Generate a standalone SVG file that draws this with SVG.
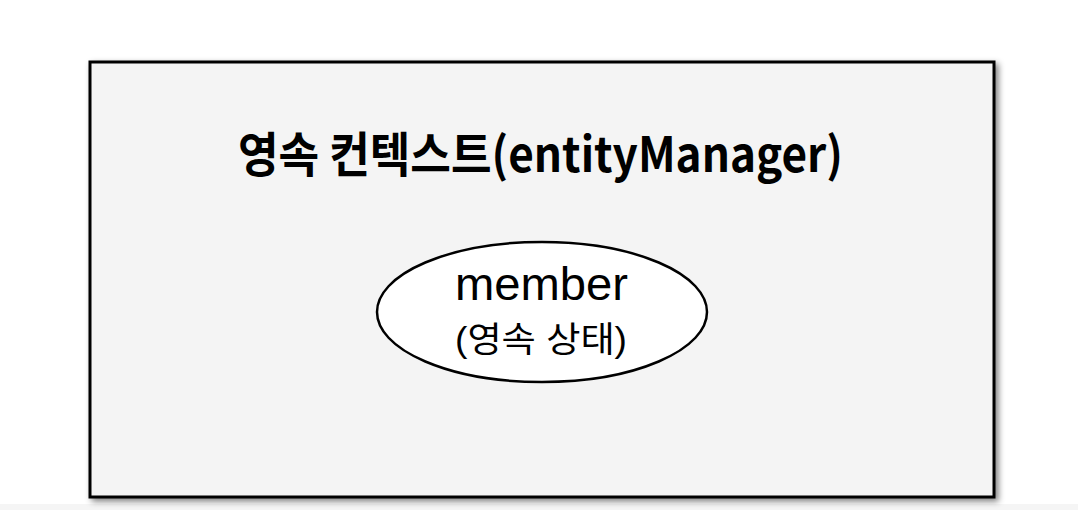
<svg xmlns="http://www.w3.org/2000/svg" width="1078" height="510" viewBox="0 0 1078 510">
  <defs>
    <filter id="shadow" x="-5%" y="-5%" width="110%" height="115%">
      <feGaussianBlur in="SourceAlpha" stdDeviation="3"/>
      <feOffset dx="3" dy="3" result="b"/>
      <feComponentTransfer><feFuncA type="linear" slope="0.5"/></feComponentTransfer>
      <feMerge><feMergeNode/><feMergeNode in="SourceGraphic"/></feMerge>
    </filter>
  </defs>
  <style>
    .title { font-family: "Noto Sans CJK KR", "Noto Sans", sans-serif; font-weight: bold; font-size: 48px; fill: #000; }
    .lbl { font-family: "Liberation Sans", "Noto Sans CJK KR", sans-serif; fill: #000; }
  </style>
  <rect x="0" y="0" width="1078" height="510" fill="#ffffff"/>
  <rect x="0" y="504" width="1078" height="6" fill="#f5f5f5"/>
  <g id="persistence-context">
    <rect x="90" y="62" width="904" height="435" fill="#f4f4f4" stroke="#000" stroke-width="3" filter="url(#shadow)"/>
    <text class="title" x="540.5" y="172" text-anchor="middle" textLength="605" lengthAdjust="spacingAndGlyphs">영속 컨텍스트(entityManager)</text>
  </g>
  <g id="member">
    <ellipse cx="542" cy="312" rx="165" ry="70" fill="#ffffff" stroke="#000" stroke-width="2.5"/>
    <text class="lbl" x="541.5" y="300" text-anchor="middle" font-size="47" textLength="173" lengthAdjust="spacingAndGlyphs">member</text>
    <text class="lbl" x="541" y="352" text-anchor="middle" font-size="35" textLength="172" lengthAdjust="spacingAndGlyphs">(영속 상태)</text>
  </g>
  <g id="connectors"></g>
</svg>
